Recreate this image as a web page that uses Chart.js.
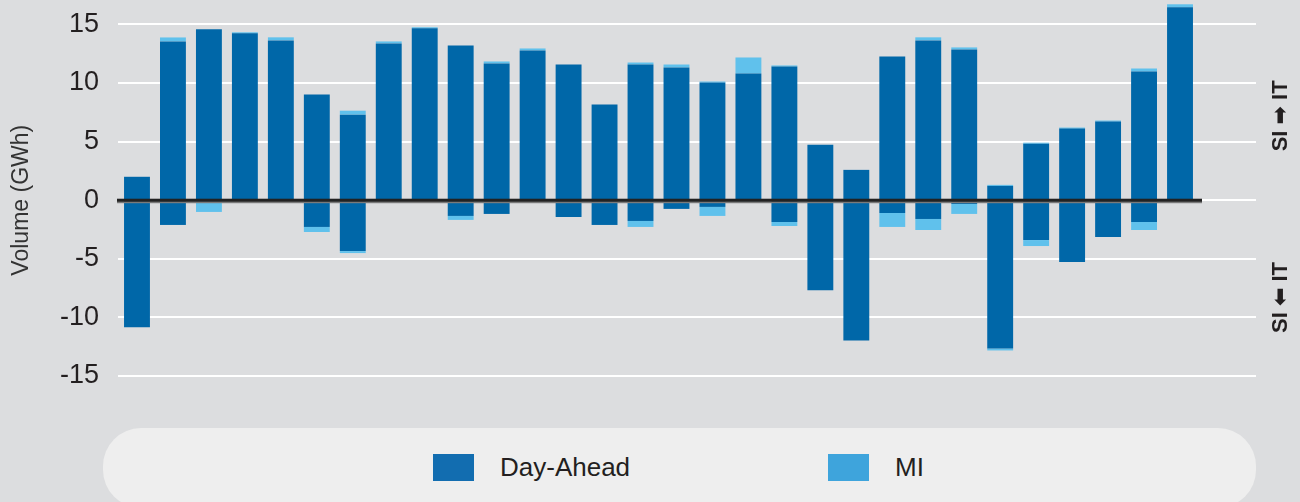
<!DOCTYPE html>
<html>
<head>
<meta charset="utf-8">
<script src="https://cdn.jsdelivr.net/npm/chart.js@4.4.0/dist/chart.umd.min.js"></script>
<style>
    html, body { margin: 0; padding: 0; background: #dcdddf; }
    #wrap { position: relative; width: 1300px; height: 502px; overflow: hidden; font-family: "Liberation Sans", Arial, sans-serif; }
    #chart { position: absolute; left: 0; top: 0; }
    #legend {
        position: absolute; left: 103px; top: 428px; width: 1153px; height: 80px;
        background: #eeeeee; border-radius: 38px;
    }
    .item { position: absolute; top: 24px; display: flex; align-items: center; }
    .item span.box { display: inline-block; width: 41px; height: 27px; margin-right: 26px; }
    .item span.txt { font-size: 26px; color: #231f20; }
</style>
</head>
<body>
<div id="wrap">
    <canvas id="chart" width="1300" height="502"></canvas>
    <div id="legend"></div>
</div>
<script>
const days = ["1","2","3","4","5","6","7","8","9","10","11","12","13","14","15",
    "16","17","18","19","20","21","22","23","24","25","26","27","28","29","30"];

// SI -> IT (positive)
const dayAheadExport = [2.0, 13.55, 14.58, 14.24, 13.64, 9.02, 7.3, 13.38, 14.67, 13.21,
    11.67, 12.78, 11.58, 8.16, 11.58, 11.33, 10.04, 10.81, 11.41, 4.73,
    2.59, 12.27, 13.64, 12.87, 1.22, 4.82, 6.11, 6.71, 10.98, 16.46];
const miExport = [0, 0.34, 0, 0.09, 0.26, 0, 0.34, 0.17, 0.09, 0,
    0.17, 0.17, 0, 0, 0.17, 0.25, 0.09, 1.37, 0.09, 0,
    0, 0, 0.26, 0.17, 0.09, 0.09, 0.09, 0.09, 0.26, 0.26];

// SI <- IT (negative)
const dayAheadImport = [-10.85, -2.11, 0, 0, 0, -2.28, -4.34, 0, 0, -1.34,
    -1.17, 0, -1.43, -2.11, -1.77, -0.74, -0.57, 0, -1.86, -7.68,
    -11.96, -1.09, -1.6, -0.32, -12.65, -3.4, -5.28, -3.14, -1.86, 0];
const miImport = [0, 0, -1.0, 0, 0, -0.43, -0.17, 0, 0, -0.34,
    0, 0, 0, 0, -0.51, 0, -0.77, -0.1, -0.34, 0,
    0, -1.19, -0.94, -0.85, -0.17, -0.51, 0, 0, -0.68, 0];

const yTicks = [-15, -10, -5, 0, 5, 10, 15];
const seriesNames = ["Day-Ahead", "MI"];

const DA_COLOR = "#0067a8";
const MI_COLOR = "#60c1ec";
const FONT = '"Liberation Sans", Arial, sans-serif';

const extras = {
    id: "extras",
    beforeDatasetsDraw(chart) {
        const ctx = chart.ctx;
        const y = chart.scales.y;
        ctx.save();
        ctx.strokeStyle = "#ffffff";
        ctx.lineWidth = 2;
        yTicks.forEach(v => {
            const py = Math.round(y.getPixelForValue(v));
            ctx.beginPath();
            ctx.moveTo(118, py);
            ctx.lineTo(1256, py);
            ctx.stroke();
        });
        ctx.restore();
    },
    afterDatasetsDraw(chart) {
        const ctx = chart.ctx;
        const y = chart.scales.y;
        const area = chart.chartArea;
        const zero = y.getPixelForValue(0);
        ctx.save();
        ctx.fillStyle = "#7a7a7a";
        ctx.fillRect(117, zero + 1, area.right + 4 - 117, 2);
        ctx.fillStyle = "#222222";
        ctx.fillRect(117, zero - 1.5, area.right + 4 - 117, 3);

        // axis title
        ctx.fillStyle = "#333333";
        ctx.font = "23px " + FONT;
        ctx.textAlign = "center";
        ctx.textBaseline = "middle";
        ctx.translate(22, zero);
        ctx.rotate(-Math.PI / 2);
        ctx.fillText("Volume (GWh)", 0, 0);
        ctx.restore();

        // direction labels
        ctx.save();
        ctx.fillStyle = "#231f20";
        ctx.font = 'bold 22px "Liberation Sans", "DejaVu Sans", sans-serif';
        ctx.textAlign = "center";
        ctx.textBaseline = "middle";
        [["SI \u27A1 IT", 7.2], ["SI \u2B05 IT", -8.3]].forEach(([t, v]) => {
            ctx.save();
            ctx.translate(1281, y.getPixelForValue(v));
            ctx.rotate(-Math.PI / 2);
            ctx.fillText(t, 0, 0);
            ctx.restore();
        });
        ctx.restore();
    }
};

const chart = new Chart(document.getElementById("chart"), {
    type: "bar",
    data: {
        labels: days,
        datasets: [
            { label: seriesNames[0], data: dayAheadExport, backgroundColor: DA_COLOR },
            { label: seriesNames[1], data: miExport, backgroundColor: MI_COLOR },
            { label: seriesNames[0], data: dayAheadImport, backgroundColor: DA_COLOR },
            { label: seriesNames[1], data: miImport, backgroundColor: MI_COLOR }
        ]
    },
    options: {
        responsive: false,
        maintainAspectRatio: false,
        animation: false,
        devicePixelRatio: 1,
        layout: { padding: { left: 0, right: 102, top: 1, bottom: 126 } },
        datasets: { bar: { categoryPercentage: 1, barPercentage: 0.72, borderWidth: 0 } },
        plugins: { legend: { display: false }, tooltip: { enabled: false } },
        scales: {
            x: { display: false, stacked: true },
            y: {
                stacked: true,
                min: -15,
                max: 17,
                grid: { display: false, drawTicks: false },
                border: { display: false },
                ticks: {
                    stepSize: 5,
                    includeBounds: false,
                    padding: 20,
                    color: "#231f20",
                    font: { size: 27, family: FONT }
                },
                afterFit(s) {
                    s.width = 119;
                    s.paddingTop = 0;
                    s.paddingBottom = 0;
                }
            }
        }
    },
    plugins: [extras]
});

// legend built from the first two datasets
const legendColors = ["#126db0", "#3ea4dc"];
const legendLeft = [330, 725];
const legend = document.getElementById("legend");
chart.data.datasets.slice(0, 2).forEach((ds, i) => {
    const item = document.createElement("div");
    item.className = "item";
    item.style.left = legendLeft[i] + "px";
    item.innerHTML = '<span class="box" style="background:' + legendColors[i] + '"></span><span class="txt">' + ds.label + '</span>';
    legend.appendChild(item);
});
</script>
</body>
</html>
